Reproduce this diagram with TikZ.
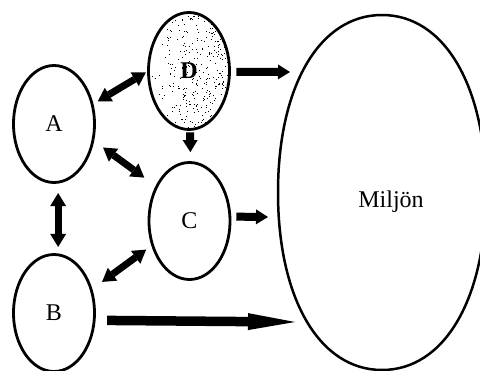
\documentclass[tikz,border=0pt]{standalone}
\usepackage{fontspec}
\setmainfont{Liberation Serif}
\usetikzlibrary{shapes.geometric,arrows.meta,backgrounds}

\begin{document}
\begin{tikzpicture}[x=1pt,y=-1pt,
  lbl/.style={font=\fontsize{24}{26}\selectfont},
  oval/.style={ellipse, draw, line width=2.8pt, minimum width=81pt,
    minimum height=117pt, inner sep=0pt, lbl},
  fatarrow/.style={line width=8pt,
    -{Triangle[length=12pt,width=15pt,line width=0pt]}},
  fatboth/.style={line width=7pt,
    {Triangle[length=13pt,width=16pt,line width=0pt]}-{Triangle[length=13pt,width=16pt,line width=0pt]}},
  longarrow/.style={line width=9.5pt,
    -{Triangle[length=47pt,width=17pt,line width=0pt]}}]
\useasboundingbox (0,0) rectangle (480,371);

% the four actors
\node[oval] (A) at (54,124) {A};
\node[oval] (D) at (189,71) {\bfseries D};
\node[oval] (C) at (189.5,221) {C};
\node[oval] (B) at (54,313) {B};

% stippled shading of D, denser towards the right
\begin{scope}[on background layer]
  \clip (D.center) ellipse [x radius=40, y radius=57];
  \pgfmathsetseed{4242}
  \foreach \i in {1,...,420}{
    \pgfmathsetmacro\px{149+82*pow(rnd,0.5)}
    \pgfmathsetmacro\py{13+117*rnd}
    \fill (\px,\py) rectangle ++(1,1);
  }
\end{scope}

% the surrounding environment
\draw[line width=2.5pt]
  (382,15) .. controls (444.4,15) and (486,86) .. (486,192.5)
  .. controls (486,299) and (444.4,370) .. (382,370)
  .. controls (319.6,370) and (278,299) .. (278,192.5)
  .. controls (278,86) and (319.6,15) .. cycle;
\node[lbl, anchor=base] (M) at (391,208) {Miljön};

% arrow tips towards the environment
\coordinate (mD) at (290,72);
\coordinate (mC) at (268,217);
\coordinate (mB) at (295,322);

% mutual influences
\draw[fatboth, shorten <=5pt, shorten >=1.5pt] (A.27) -- (D.181);
\draw[fatboth, shorten <=11pt, shorten >=14pt] (A.-23) -- (C.134);
\draw[fatboth, shorten <=9.5pt, shorten >=6.5pt] (A.-86) -- (B.86);
\draw[fatboth, shorten <=12pt, shorten >=6.5pt] (B.32) -- (C.213);

% one-way influences
\draw[fatarrow, shorten <=1.5pt, shorten >=9pt] (D.-89) -- (C.89);
\draw[fatarrow, shorten <=5.5pt] (D.-1) -- (mD);
\draw[fatarrow, shorten <=5pt] (C.6) -- (mC);
\draw[longarrow, shorten <=11.5pt] (B.-10) -- (mB);
\end{tikzpicture}
\end{document}
